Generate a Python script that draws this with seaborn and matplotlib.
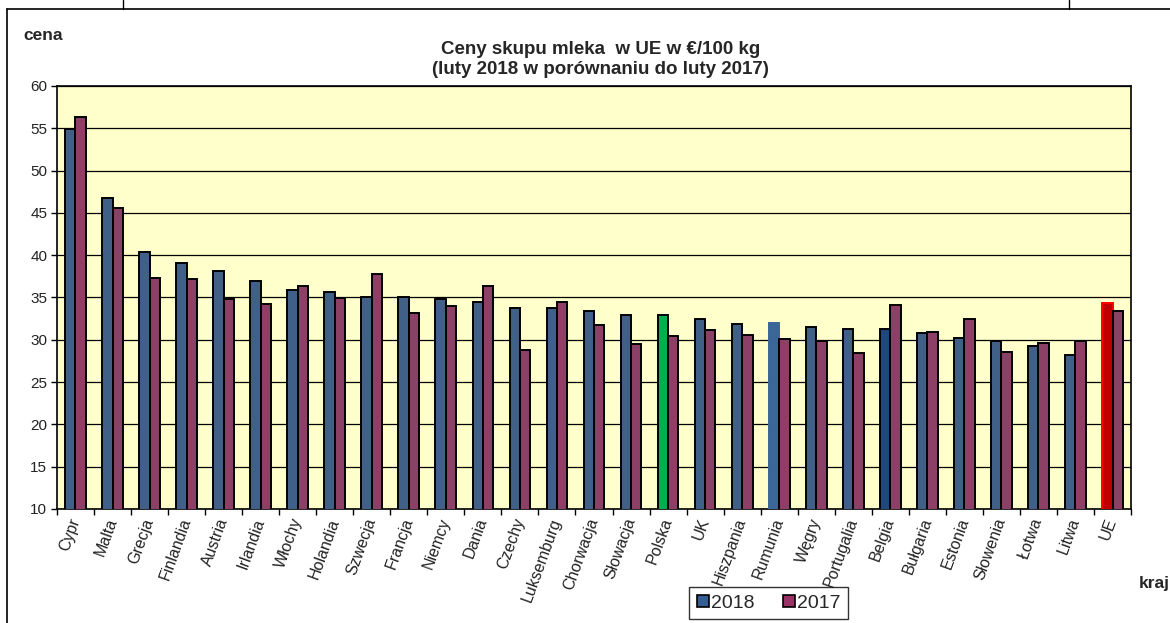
import numpy as np
import pandas as pd
import matplotlib
matplotlib.use("Agg")
import matplotlib.pyplot as plt
import seaborn as sns
from matplotlib.patches import Patch
from matplotlib.lines import Line2D

# --- Data ---
countries = ["Cypr", "Malta", "Grecja", "Finlandia", "Austria", "Irlandia", "Włochy",
             "Holandia", "Szwecja", "Francja", "Niemcy", "Dania", "Czechy", "Luksemburg",
             "Chorwacja", "Słowacja", "Polska", "UK", "Hiszpania", "Rumunia", "Węgry",
             "Portugalia", "Belgia", "Bułgaria", "Estonia", "Słowenia", "Łotwa", "Litwa", "UE"]
price_2018 = [54.9, 46.7, 40.4, 39.1, 38.1, 36.9, 35.9, 35.6, 35.0, 35.0, 34.8, 34.5, 33.8, 33.7,
              33.4, 32.9, 32.9, 32.5, 31.9, 32.0, 31.5, 31.3, 31.3, 30.8, 30.2, 29.9, 29.3, 28.2, 34.4]
price_2017 = [56.3, 45.6, 37.3, 37.2, 34.8, 34.2, 36.3, 34.9, 37.8, 33.2, 34.0, 36.4, 28.8, 34.5,
              31.8, 29.5, 30.5, 31.2, 30.6, 30.1, 29.8, 28.4, 34.1, 30.9, 32.5, 28.5, 29.6, 29.9, 33.4]
years = ["2018", "2017"]

df = pd.DataFrame({
    "kraj": countries * 2,
    "rok": [years[0]] * len(countries) + [years[1]] * len(countries),
    "cena": price_2018 + price_2017,
})

# --- Style ---
BLUE = "#355F94"
PURPLE = "#993366"
BG = "#FFFFCC"
special_2018 = {"Polska": ("#00B050", "black"), "Rumunia": ("#3A6698", "#3A6698"),
                "Belgia": ("#1F497D", "black"), "UE": ("#C00000", "#FF0000")}

sns.set_style("white")
plt.rcParams["font.family"] = ["Liberation Sans", "DejaVu Sans"]

fig = plt.figure(figsize=(11.7, 6.23), dpi=100)
ax = fig.add_axes([0.0487, 0.183, 0.918, 0.679])
ax.set_facecolor(BG)

sns.barplot(data=df, x="kraj", y="cena", hue="rok", palette=[BLUE, PURPLE],
            width=0.56, edgecolor="black", linewidth=1.4, ax=ax, legend=False, zorder=3)

# highlighted 2018 bars
for bar, name in zip(ax.containers[0], countries):
    if name in special_2018:
        fc, ec = special_2018[name]
        bar.set_facecolor(fc)
        bar.set_edgecolor(ec)

ax.set_ylim(10, 60)
ax.set_xlim(-0.5, len(countries) - 0.5)
ax.set_yticks(np.arange(10, 61, 5))
ax.yaxis.grid(True, color="black", linewidth=0.9, zorder=0)
ax.set_axisbelow(True)
for s in ax.spines.values():
    s.set_color("black")
    s.set_linewidth(1.2)

ax.tick_params(axis="y", direction="out", length=4, width=1, color="black",
               labelsize=11, labelcolor="#222222", pad=3, left=True)
ax.set_xticks(range(len(countries)))
ax.set_xticklabels(countries, rotation=70, ha="right", va="center",
                   rotation_mode="anchor", fontsize=11.5, color="#222222")
ax.tick_params(axis="x", which="major", length=0, pad=7)
ax.set_xticks(np.arange(-0.5, len(countries), 1), minor=True)
ax.tick_params(axis="x", which="minor", direction="out", length=4, width=1,
               color="black", bottom=True)
ax.set_xlabel("")
ax.set_ylabel("")

fig.text(0.513, 0.904, "Ceny skupu mleka  w UE w €/100 kg\n(luty 2018 w porównaniu do luty 2017)",
         ha="center", va="center", fontsize=13.5, fontweight="bold", linespacing=1.25)
fig.text(0.020, 0.943, "cena", fontsize=12.5, fontweight="bold", va="center")
fig.text(0.973, 0.063, "kraj", fontsize=12.5, fontweight="bold", va="center")

handles = [Patch(facecolor=BLUE, edgecolor="black", linewidth=1.2),
           Patch(facecolor=PURPLE, edgecolor="black", linewidth=1.2)]
leg = fig.legend(handles, years, loc="center", bbox_to_anchor=(0.657, 0.032),
                 ncol=2, fontsize=14, frameon=True, fancybox=False, handlelength=0.6,
                 handleheight=0.6, handletextpad=0.1, columnspacing=1.5,
                 borderpad=0.4, borderaxespad=0)
leg.get_frame().set_edgecolor("black")
leg.get_frame().set_linewidth(1.0)

# frame lines of the surrounding sheet
fig.add_artist(Line2D([0.006, 0.006], [0.0, 0.985], color="black", lw=1.2))
fig.add_artist(Line2D([0.006, 1.0], [0.985, 0.985], color="black", lw=1.2))
fig.add_artist(Line2D([0.105, 0.105], [0.985, 1.0], color="black", lw=1.0))
fig.add_artist(Line2D([0.914, 0.914], [0.985, 1.0], color="black", lw=1.0))

fig.savefig("out.png", dpi=100)
